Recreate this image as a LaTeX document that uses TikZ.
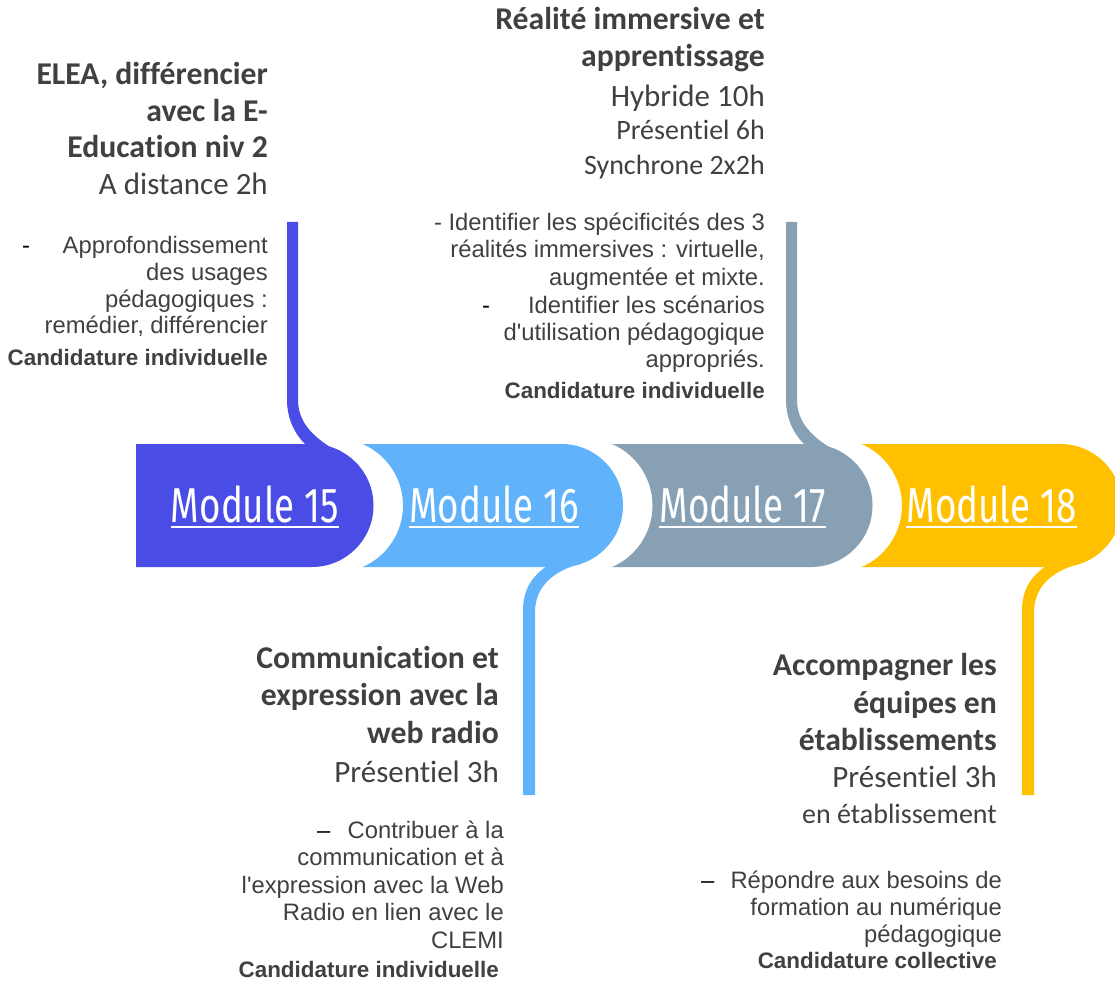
\documentclass[tikz,border=0pt]{standalone}
\usepackage{fontspec}
\newfontfamily\carlito{Carlito}[Ligatures={NoCommon}]
\newfontfamily\descf{Liberation Sans}[Ligatures={NoCommon}]
\newfontfamily\firaf{Fira Sans}
\definecolor{cA}{HTML}{4A4CE6}
\definecolor{cB}{HTML}{60B2FA}
\definecolor{cC}{HTML}{87A0B4}
\definecolor{cD}{HTML}{FFC000}
\definecolor{txt}{HTML}{404040}
\newcommand\txtln[4]{\node[#1] (#2) at (#3) {#4};}
\tikzset{
  ttl/.style={anchor=base east, inner sep=0pt, text=txt, font=\carlito\bfseries\fontsize{31.7}{31.7}\selectfont},
  sub/.style={anchor=base east, inner sep=0pt, text=txt, font=\carlito\fontsize{31}{31}\selectfont},
  subs/.style={anchor=base east, inner sep=0pt, text=txt, font=\carlito\fontsize{28}{28}\selectfont},
  dsc/.style={anchor=base east, inner sep=0pt, text=txt, font=\descf\fontsize{23.8}{23.8}\selectfont},
  dscb/.style={anchor=base east, inner sep=0pt, text=txt, font=\descf\bfseries\fontsize{22.4}{22.4}\selectfont},
  bulletmk/.style={anchor=base west, inner sep=0pt, text=black, font=\descf\fontsize{23.8}{23.8}\selectfont},
  modtxt/.style={anchor=base, inner sep=0pt, text=white, font=\firaf\fontsize{49}{49}\selectfont},
  uline/.style={white, line width=2pt},
}
\begin{document}
\begin{tikzpicture}[x=1pt,y=-1pt]
\useasboundingbox (0,0) rectangle (1115,984);
\begin{scope}
\clip (0,0) rectangle (1115,984);
% module shapes
\fill[cA] (136,444) -- (312,444) arc[start angle=-90,end angle=90,radius=61.5] -- (136,567) -- cycle;
\fill[cB] (362.6,444) -- (561.5,444) arc[start angle=-90,end angle=90,radius=61.5] -- (362.6,567) arc[start angle=66.6,end angle=-66.6,radius=67] -- cycle;
\fill[cC] (612.1,444) -- (811,444) arc[start angle=-90,end angle=90,radius=61.5] -- (612.1,567) arc[start angle=66.6,end angle=-66.6,radius=67] -- cycle;
\fill[cD] (861.6,444) -- (1060.5,444) arc[start angle=-90,end angle=90,radius=61.5] -- (861.6,567) arc[start angle=66.6,end angle=-66.6,radius=67] -- cycle;
% stems
\fill[cA] (287,222) -- (298,222) -- (298,400) .. controls (298,428) and (322,444) .. (350,458) -- (307,446) .. controls (296,436) and (287,420) .. (287,400) -- cycle;
\begin{scope}[shift={(499,0)}]
\fill[cC] (287,222) -- (298,222) -- (298,400) .. controls (298,428) and (322,444) .. (350,458) -- (307,446) .. controls (296,436) and (287,420) .. (287,400) -- cycle;
\end{scope}
\fill[cB] (523,795) -- (523,610) .. controls (523,590) and (532,576) .. (547,566) -- (580,564) .. controls (556,570) and (535,585) .. (535,612) -- (535,795) -- cycle;
\begin{scope}[shift={(499,0)}]
\fill[cD] (523,795) -- (523,610) .. controls (523,590) and (532,576) .. (547,566) -- (580,564) .. controls (556,570) and (535,585) .. (535,612) -- (535,795) -- cycle;
\end{scope}
\end{scope}
% module labels
\node[modtxt] (m15) at (255,522) {\scalebox{0.75}[1]{Module 15}};
\node[modtxt] (m16) at (494,522) {\scalebox{0.75}[1]{Module 16}};
\node[modtxt] (m17) at (742.5,522) {\scalebox{0.75}[1]{Module 17}};
\node[modtxt] (m18) at (991.5,522) {\scalebox{0.75}[1]{Module 18}};
\foreach \m in {m15,m16,m17,m18}{
  \draw[uline] ([yshift=-4.5pt]\m.base west) -- ([yshift=-4.5pt]\m.base east);
}
% block 1
\txtln{ttl}{a1}{268,85}{ELEA, différencier}
\txtln{ttl}{a2}{268,121.5}{avec la E-}
\txtln{ttl}{a3}{268,158}{Education niv 2}
\txtln{sub}{a4}{268,195}{A distance 2h}
\txtln{bulletmk}{a5d}{22,253}{-}
\txtln{dsc}{a5}{268,253}{Approfondissement}
\txtln{dsc}{a6}{268,280}{des usages}
\txtln{dsc}{a7}{268,307}{pédagogiques :}
\txtln{dsc}{a8}{268,333}{remédier, différencier}
\txtln{dscb}{a9}{268,365}{Candidature individuelle}
% block 3
\txtln{ttl}{c1}{765,30}{Réalité immersive et}
\txtln{ttl}{c2}{765,67}{apprentissage}
\txtln{sub}{c3}{765,107}{Hybride 10h}
\txtln{subs}{c4}{765,140}{Présentiel 6h}
\txtln{subs}{c5}{765,175}{Synchrone 2x2h}
\txtln{dsc}{c6}{765,230}{- Identifier les spécificités des 3}
\txtln{dsc}{c7}{765,258}{réalités immersives : virtuelle,}
\txtln{dsc}{c8}{765,285}{augmentée et mixte.}
\txtln{bulletmk}{c9d}{482,313}{-}
\txtln{dsc}{c9}{765,313}{Identifier les scénarios}
\txtln{dsc}{c10}{765,340}{d'utilisation pédagogique}
\txtln{dsc}{c11}{765,367}{appropriés.}
\txtln{dscb}{c12}{765,398}{Candidature individuelle}
% block 2
\txtln{ttl}{b1}{499,668}{Communication et}
\txtln{ttl}{b2}{499,705}{expression avec la}
\txtln{ttl}{b3}{499,743}{web radio}
\txtln{sub}{b4}{499,782}{Présentiel 3h}
\txtln{bulletmk}{b5d}{317,838}{–}
\txtln{dsc}{b5}{504,838}{Contribuer à la}
\txtln{dsc}{b6}{504,865}{communication et à}
\txtln{dsc}{b7}{504,893}{l'expression avec la Web}
\txtln{dsc}{b8}{504,920}{Radio en lien avec le}
\txtln{dsc}{b9}{504,948}{CLEMI}
\txtln{dscb}{b10}{499,977}{Candidature individuelle}
% block 4
\txtln{ttl}{d1}{997,675}{Accompagner les}
\txtln{ttl}{d2}{997,713}{équipes en}
\txtln{ttl}{d3}{997,750}{établissements}
\txtln{sub}{d4}{997,787}{Présentiel 3h}
\txtln{subs}{d5}{997,823}{en établissement}
\txtln{bulletmk}{d6d}{701,888}{–}
\txtln{dsc}{d6}{1002,888}{Répondre aux besoins de}
\txtln{dsc}{d7}{1002,915}{formation au numérique}
\txtln{dsc}{d8}{1002,942}{pédagogique}
\txtln{dscb}{d9}{997,968}{Candidature collective}
\end{tikzpicture}
\end{document}
